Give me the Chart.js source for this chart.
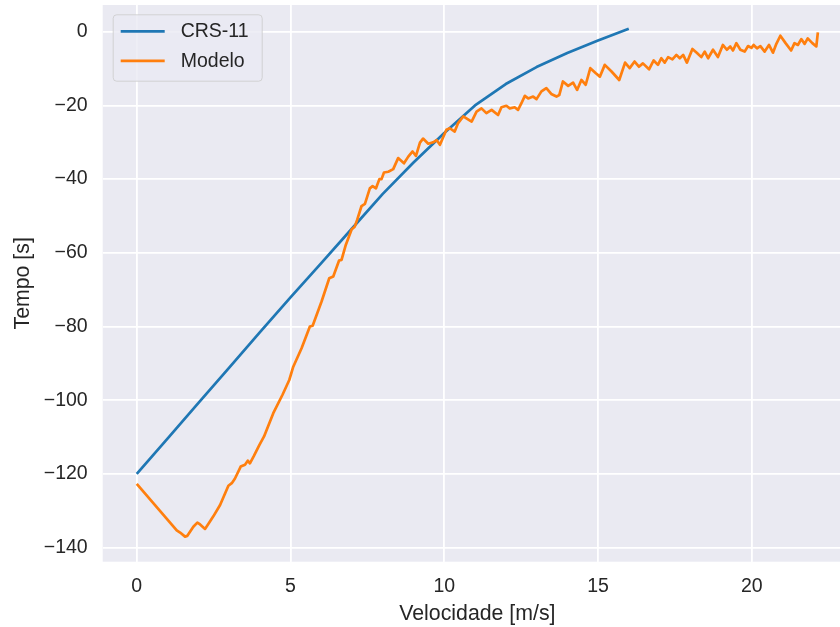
<!DOCTYPE html>
<html lang="pt">
<head>
<meta charset="UTF-8">
<title>Tempo x Velocidade</title>
<script src="https://cdn.jsdelivr.net/npm/chart.js"></script>
<style>
  body { margin: 0; overflow: hidden; background: #fff; }
  canvas { display: block; }
</style>
</head>
<body>
<canvas id="velChart" width="852" height="627"></canvas>
<script>
// CRS-11 (referência)
const crsVel = [0, 1, 2, 3, 4, 5, 6, 7, 8, 9, 10, 11, 12, 13, 14, 15, 16];
const crsTime = [-120, -110.4, -100.8, -91.2, -81.6, -72.1, -62.8, -53.4, -44.0, -35.5,
                 -27.5, -20.0, -14.2, -9.6, -5.8, -2.4, 0.8];

// Modelo (simulação)
const modVel = [
  0.00, 1.30, 1.41, 1.57, 1.64, 1.84, 1.97, 2.06, 2.22, 2.38, 2.49, 2.71, 2.98, 3.09, 3.19,
  3.38, 3.52, 3.61, 3.68, 3.81, 3.99, 4.14, 4.44, 4.74, 4.96, 5.09, 5.36, 5.63, 5.72, 6.01,
  6.26, 6.39, 6.58, 6.66, 6.80, 6.99, 7.09, 7.17, 7.31, 7.42, 7.58, 7.67, 7.78, 7.89, 7.96,
  8.04, 8.18, 8.34, 8.50, 8.69, 8.83, 8.97, 9.08, 9.21, 9.31, 9.48, 9.64, 9.75, 9.86, 10.07,
  10.18, 10.34, 10.45, 10.62, 10.72, 10.89, 11.05, 11.21, 11.37, 11.54, 11.75, 11.86, 12.02,
  12.13, 12.29, 12.40, 12.51, 12.62, 12.73, 12.89, 13.00, 13.16, 13.32, 13.48, 13.65, 13.74,
  13.86, 14.03, 14.19, 14.32, 14.46, 14.60, 14.75, 14.93, 15.06, 15.22, 15.44, 15.69, 15.88,
  16.03, 16.19, 16.33, 16.46, 16.66, 16.81, 16.95, 17.06, 17.17, 17.28, 17.42, 17.55, 17.66,
  17.77, 17.89, 18.07, 18.22, 18.36, 18.47, 18.58, 18.74, 18.90, 19.06, 19.19, 19.30, 19.39,
  19.50, 19.63, 19.77, 19.88, 19.99, 20.06, 20.17, 20.28, 20.42, 20.56, 20.69, 20.80, 20.93,
  21.10, 21.28, 21.39, 21.50, 21.61, 21.72, 21.82, 21.97, 22.10, 22.15
];
const modTime = [
  -122.7, -135.3, -135.9, -137.0, -136.8, -134.3, -133.2, -133.7, -134.9, -132.9, -131.5, -128.4, -123.2, -122.5, -121.3,
  -118.0, -117.5, -116.4, -117.1, -115.1, -112.1, -109.8, -103.5, -98.5, -94.5, -90.9, -85.9, -80.0, -79.8, -73.2,
  -66.9, -66.4, -62.1, -61.9, -57.8, -53.6, -52.9, -51.0, -47.3, -46.7, -42.5, -41.9, -42.5, -40.0, -40.0,
  -38.2, -38.0, -37.3, -34.3, -35.7, -33.9, -32.5, -33.7, -30.1, -29.0, -30.4, -30.0, -29.4, -30.7, -26.6,
  -26.2, -27.1, -24.8, -23.0, -23.5, -24.4, -21.7, -20.8, -22.1, -21.2, -22.6, -20.5, -20.1,
  -20.8, -20.5, -21.2, -19.4, -17.4, -18.1, -17.6, -18.3, -16.2, -15.3, -16.9, -17.6, -17.2,
  -13.5, -14.7, -13.8, -15.8, -13.1, -14.4, -9.9, -11.3, -12.2, -9.0, -10.8, -13.1, -8.4,
  -9.9, -8.1, -9.5, -8.6, -10.2, -7.8, -9.0, -7.2, -8.4, -6.9, -7.5, -6.3, -7.2,
  -6.3, -8.4, -4.7, -5.8, -6.9, -5.4, -7.2, -4.9, -6.9, -3.6, -4.9, -4.0, -5.1,
  -3.1, -4.9, -5.4, -3.9, -4.4, -3.6, -4.5, -3.9, -5.4, -3.6, -5.7, -3.3, -1.1,
  -3.1, -5.1, -3.1, -3.6, -2.0, -3.3, -1.8, -3.1, -4.0, -0.2
];

const xTicks = [0, 5, 10, 15, 20];
const yTicks = [-140, -120, -100, -80, -60, -40, -20, 0];

const textColor = '#262626';
const fontFamily = '"Liberation Sans", Arial, sans-serif';
Chart.defaults.font.family = fontFamily;
Chart.defaults.color = textColor;

function toPoints(xs, ys) {
    return xs.map((x, i) => ({ x: x, y: ys[i] }));
}

// sinal de menos tipográfico
function fmtTick(v) {
    return v < 0 ? '\u2212' + Math.abs(v) : String(v);
}

// fundo cinza-azulado da área de plotagem
const areaBg = {
    id: 'areaBg',
    beforeDraw(chart) {
        const { ctx, chartArea: a } = chart;
        ctx.save();
        ctx.fillStyle = '#eaeaf2';
        ctx.fillRect(a.left, a.top, a.width, a.height);
        ctx.restore();
    }
};

// legenda com moldura arredondada no canto superior esquerdo
const legendBox = {
    id: 'legendBox',
    afterDraw(chart) {
        const { ctx, chartArea: a } = chart;
        const x0 = a.left + 10, y0 = a.top + 9.3;
        ctx.save();
        ctx.beginPath();
        ctx.roundRect(x0 + 0.5, y0 + 0.5, 149, 66.4, 3.5);
        ctx.fillStyle = 'rgba(234,234,242,0.8)';
        ctx.fill();
        ctx.strokeStyle = 'rgba(204,204,204,0.8)';
        ctx.lineWidth = 1;
        ctx.stroke();
        ctx.font = '19.5px ' + fontFamily;
        ctx.textBaseline = 'middle';
        chart.data.datasets.forEach((ds, i) => {
            const y = y0 + 17 + i * 29.5;
            ctx.strokeStyle = ds.borderColor;
            ctx.lineWidth = ds.borderWidth;
            ctx.beginPath();
            ctx.moveTo(x0 + 8, y);
            ctx.lineTo(x0 + 52, y);
            ctx.stroke();
            ctx.fillStyle = textColor;
            ctx.fillText(ds.label, x0 + 68, y + 0.5);
        });
        ctx.restore();
    }
};

new Chart(document.getElementById('velChart'), {
    type: 'scatter',
    data: {
        datasets: [{
            label: 'CRS-11',
            data: toPoints(crsVel, crsTime),
            showLine: true,
            borderColor: '#1f77b4',
            borderWidth: 2.7,
            pointRadius: 0,
            borderJoinStyle: 'round',
            order: 1
        }, {
            label: 'Modelo',
            data: toPoints(modVel, modTime),
            showLine: true,
            borderColor: '#ff7f0e',
            borderWidth: 2.7,
            pointRadius: 0,
            borderJoinStyle: 'round',
            order: 0
        }]
    },
    options: {
        responsive: false,
        animation: false,
        layout: { padding: { top: 5, left: 0, right: 0, bottom: 0 } },
        plugins: {
            legend: { display: false },
            tooltip: { enabled: false }
        },
        scales: {
            x: {
                type: 'linear',
                min: -1.1075,
                max: 23.26,
                afterBuildTicks: s => { s.ticks = xTicks.map(v => ({ value: v })); },
                afterFit: s => { s.height = 65.3; s.paddingLeft = 0; s.paddingRight = 0; },
                grid: { color: '#ffffff', lineWidth: 1.8, drawTicks: false },
                border: { display: false },
                ticks: { font: { size: 19.5 }, color: textColor, padding: 13, maxRotation: 0, autoSkip: false, callback: fmtTick },
                title: { display: true, text: 'Velocidade [m/s]', font: { size: 21.3 }, color: textColor, padding: { top: 0, bottom: 0 } }
            },
            y: {
                type: 'linear',
                min: -143.8,
                max: 7.24,
                afterBuildTicks: s => { s.ticks = yTicks.map(v => ({ value: v })); },
                afterFit: s => { s.width = 102.7; s.paddingTop = 0; s.paddingBottom = 0; },
                grid: { color: '#ffffff', lineWidth: 1.8, drawTicks: false },
                border: { display: false },
                ticks: { font: { size: 19.5 }, color: textColor, padding: 15, autoSkip: false, callback: fmtTick },
                title: { display: true, text: 'Tempo [s]', font: { size: 21.3 }, color: textColor, padding: { top: 10, bottom: 0 } }
            }
        }
    },
    plugins: [areaBg, legendBox]
});
</script>
</body>
</html>
